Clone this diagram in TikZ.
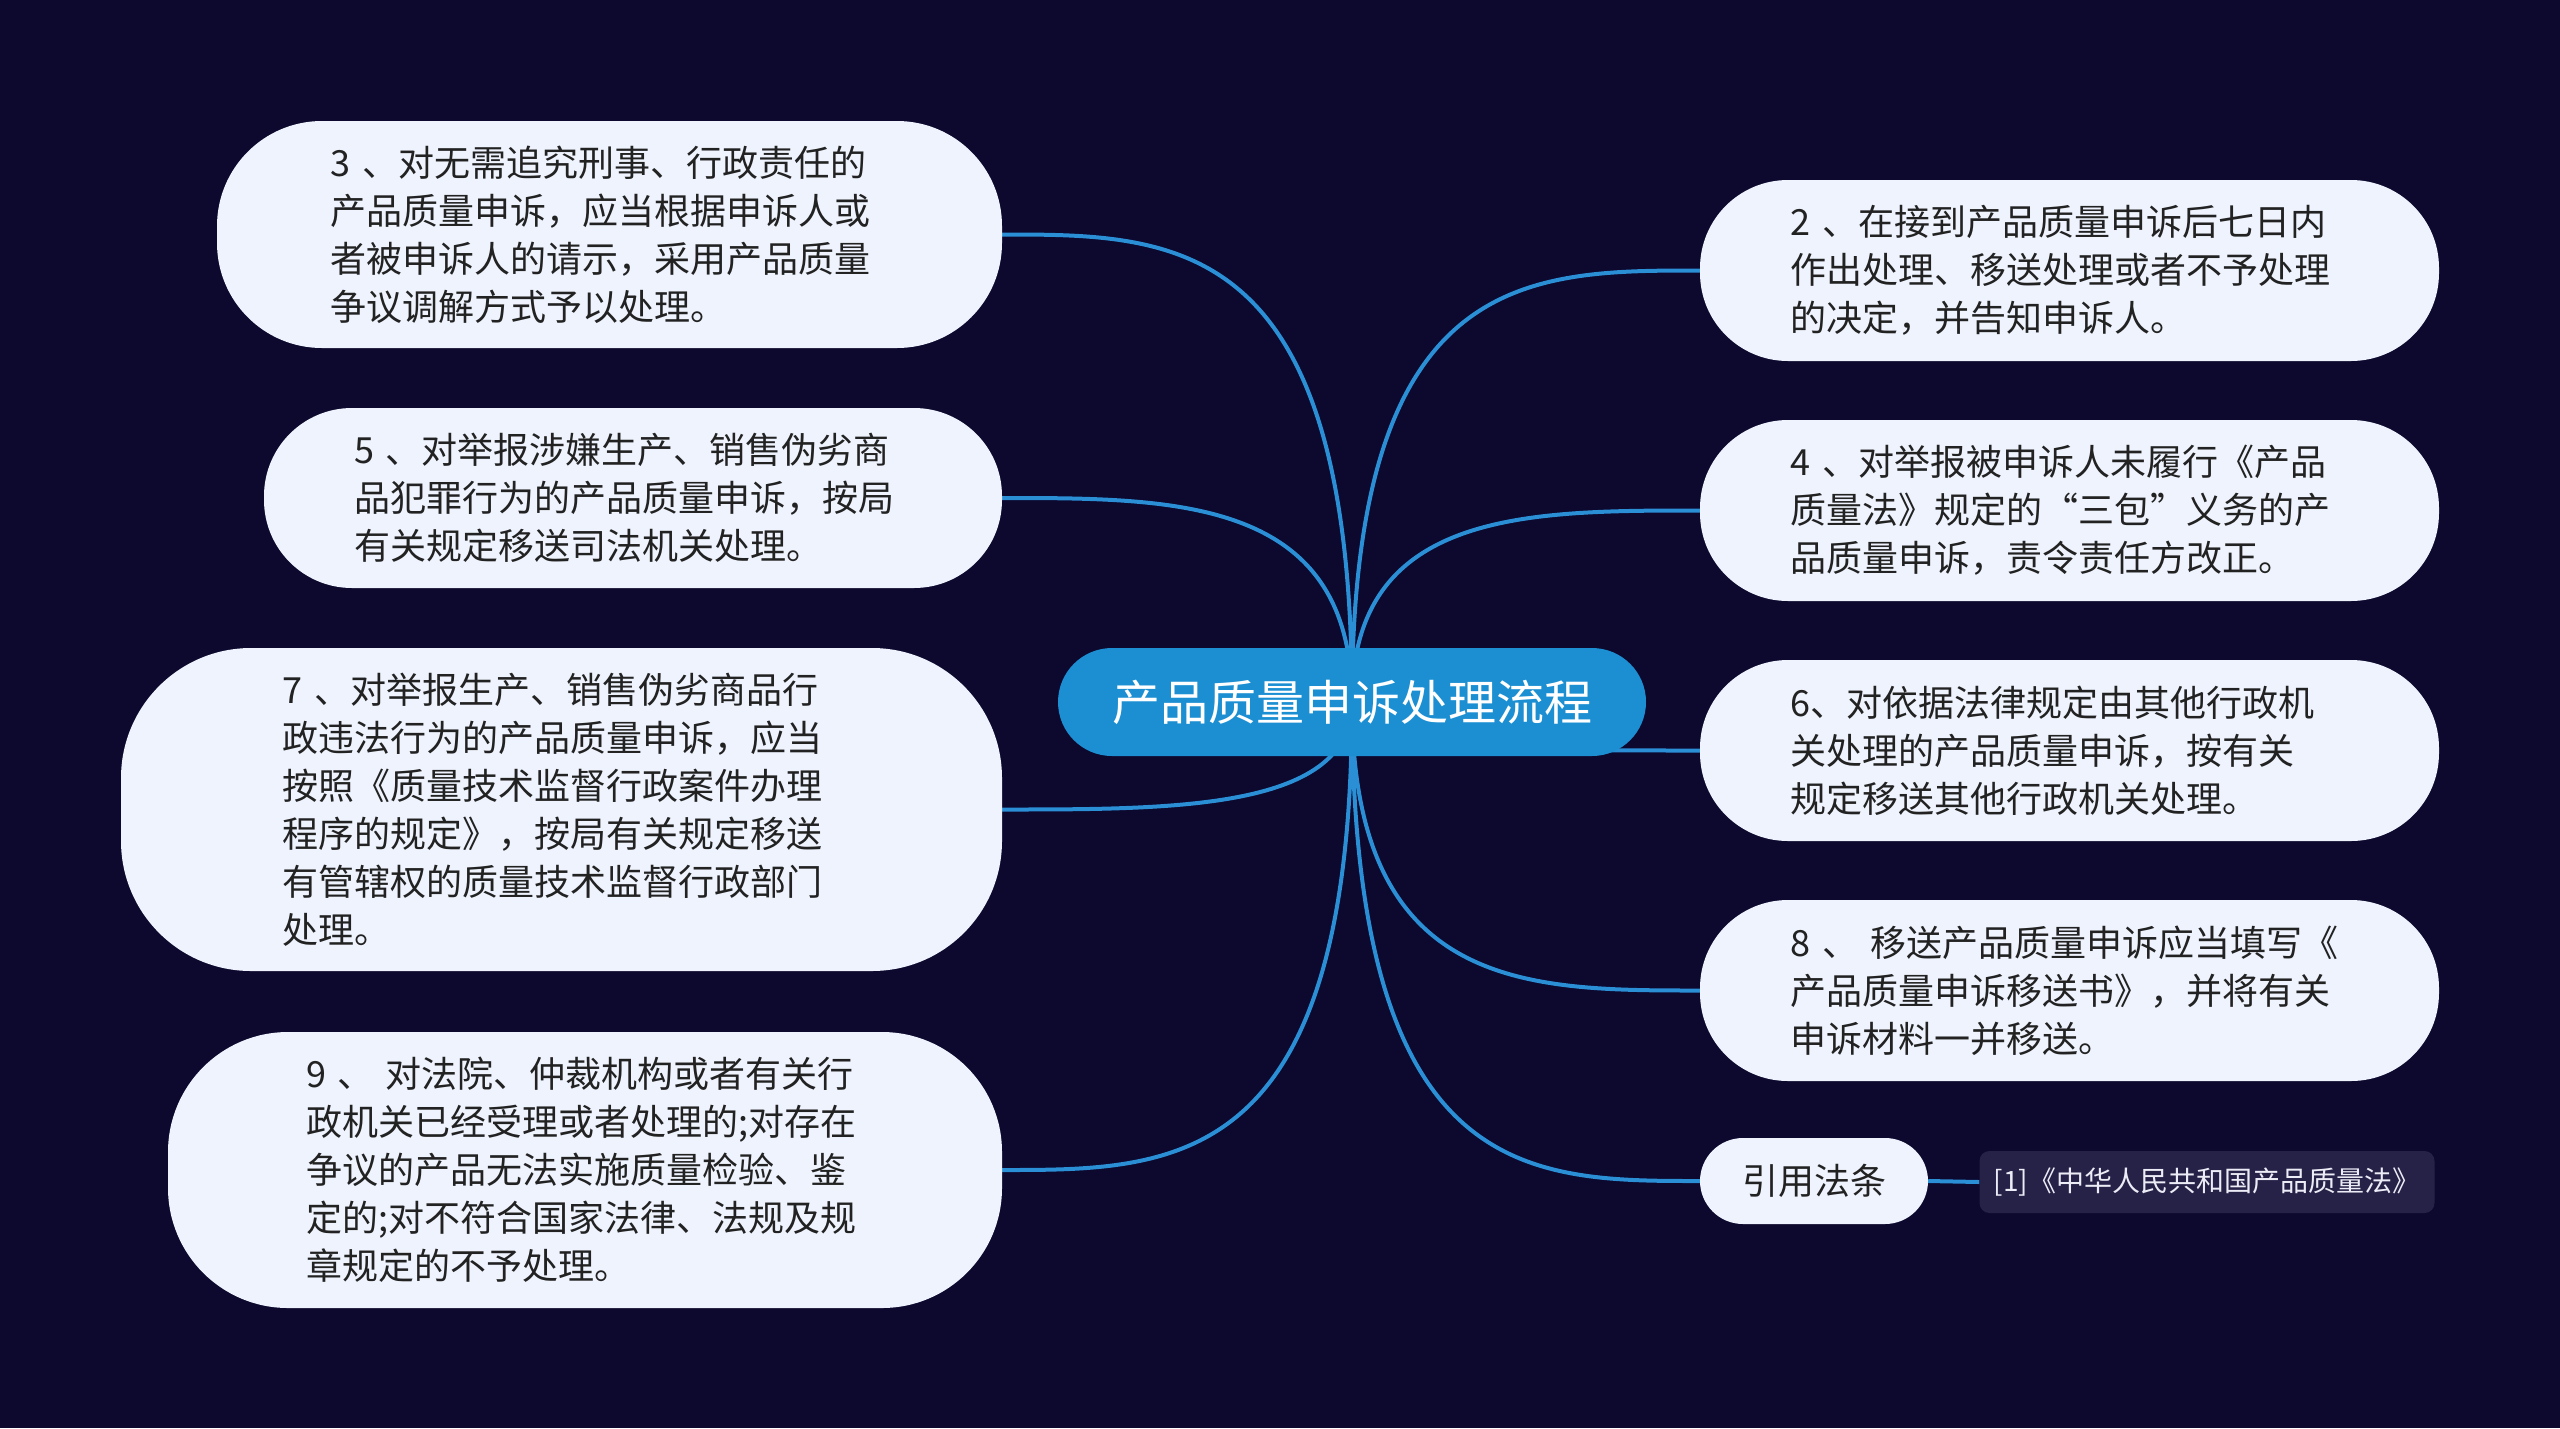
\documentclass[tikz,border=0pt]{standalone}
\usepackage{fontspec}
\setmainfont{Noto Sans CJK SC}
\usetikzlibrary{calc}
\definecolor{bgnavy}{RGB}{12,8,46}
\definecolor{leaffill}{RGB}{238,243,253}
\definecolor{leaftext}{RGB}{34,34,34}
\definecolor{rootblue}{RGB}{28,143,210}
\definecolor{lineblue}{RGB}{43,143,214}
\definecolor{refbox}{RGB}{37,33,71}
\definecolor{reftext}{RGB}{236,236,246}
\pgfdeclarelayer{bglayer}
\pgfdeclarelayer{edgelayer}
\pgfsetlayers{bglayer,edgelayer,main}
\newcommand\mmbranch[1]{%
  \draw[conn] (root.center) .. controls ($(root.center |- #1)$) and ($(root.center |- #1)!0.5!(#1)$) .. (#1);}
\begin{document}
\begin{tikzpicture}[x=1pt,y=-1pt,
  leaf/.style={fill=leaffill, text=leaftext, align=left, inner sep=0pt,
    font=\fontsize{36}{48}\selectfont},
  bodytext/.style={text width=558pt},
  rootnode/.style={fill=rootblue, text=white, inner sep=0pt, rounded corners=54pt,
    minimum width=588pt, minimum height=108pt, font=\fontsize{48}{56}\selectfont},
  reflabel/.style={fill=refbox, text=reftext, inner sep=0pt, rounded corners=10pt,
    minimum width=455pt, minimum height=62pt, font=\fontsize{28}{34}\selectfont},
  conn/.style={draw=lineblue, line width=4pt}]
\useasboundingbox (0,0) rectangle (2560,1428);
\begin{pgfonlayer}{bglayer}
  \fill[bgnavy] (0,0) rectangle (2560,1428);
\end{pgfonlayer}

\node[rootnode] (root) at (1352,702) {产品质量申诉处理流程};

% left branches
\node[leaf, bodytext, minimum width=785pt, minimum height=227pt, rounded corners=105pt] (n3) at (609.5,234.5)
  {3 、对无需追究刑事、行政责任的\\产品质量申诉，应当根据申诉人或\\者被申诉人的请示，采用产品质量\\争议调解方式予以处理。};
\node[leaf, bodytext, minimum width=738pt, minimum height=180pt, rounded corners=88pt] (n5) at (633,498)
  {5 、对举报涉嫌生产、销售伪劣商\\品犯罪行为的产品质量申诉，按局\\有关规定移送司法机关处理。};
\node[leaf, bodytext, minimum width=881pt, minimum height=323pt, rounded corners=130pt] (n7) at (561.5,809.5)
  {7 、对举报生产、销售伪劣商品行\\政违法行为的产品质量申诉，应当\\按照《质量技术监督行政案件办理\\程序的规定》，按局有关规定移送\\有管辖权的质量技术监督行政部门\\处理。};
\node[leaf, bodytext, minimum width=834pt, minimum height=276pt, rounded corners=120pt] (n9) at (585,1170)
  {9 、 对法院、仲裁机构或者有关行\\政机关已经受理或者处理的;对存在\\争议的产品无法实施质量检验、鉴\\定的;对不符合国家法律、法规及规\\章规定的不予处理。};

% right branches
\node[leaf, bodytext, minimum width=739pt, minimum height=181pt, rounded corners=88pt] (n2) at (2069.5,270.5)
  {2 、在接到产品质量申诉后七日内\\作出处理、移送处理或者不予处理\\的决定，并告知申诉人。};
\node[leaf, bodytext, minimum width=739pt, minimum height=181pt, rounded corners=88pt] (n4) at (2069.5,510.5)
  {4 、对举报被申诉人未履行《产品\\质量法》规定的“三包”义务的产\\品质量申诉，责令责任方改正。};
\node[leaf, bodytext, minimum width=739pt, minimum height=181pt, rounded corners=88pt] (n6) at (2069.5,750.5)
  {6、对依据法律规定由其他行政机\\关处理的产品质量申诉，按有关\\规定移送其他行政机关处理。};
\node[leaf, bodytext, minimum width=739pt, minimum height=181pt, rounded corners=88pt] (n8) at (2069.5,990.5)
  {8 、 移送产品质量申诉应当填写《\\产品质量申诉移送书》，并将有关\\申诉材料一并移送。};
\node[leaf, minimum width=228pt, minimum height=86pt, rounded corners=43pt] (yy) at (1814,1181)
  {引用法条};
\node[reflabel] (ref) at (2207,1182) {[1]《中华人民共和国产品质量法》};

\begin{pgfonlayer}{edgelayer}
  \mmbranch{n3.east}
  \mmbranch{n5.east}
  \mmbranch{n7.east}
  \mmbranch{n9.east}
  \mmbranch{n2.west}
  \mmbranch{n4.west}
  \mmbranch{n6.west}
  \mmbranch{n8.west}
  \mmbranch{yy.west}
  \draw[conn] (yy.east) -- (ref.west);
\end{pgfonlayer}
\end{tikzpicture}
\end{document}
